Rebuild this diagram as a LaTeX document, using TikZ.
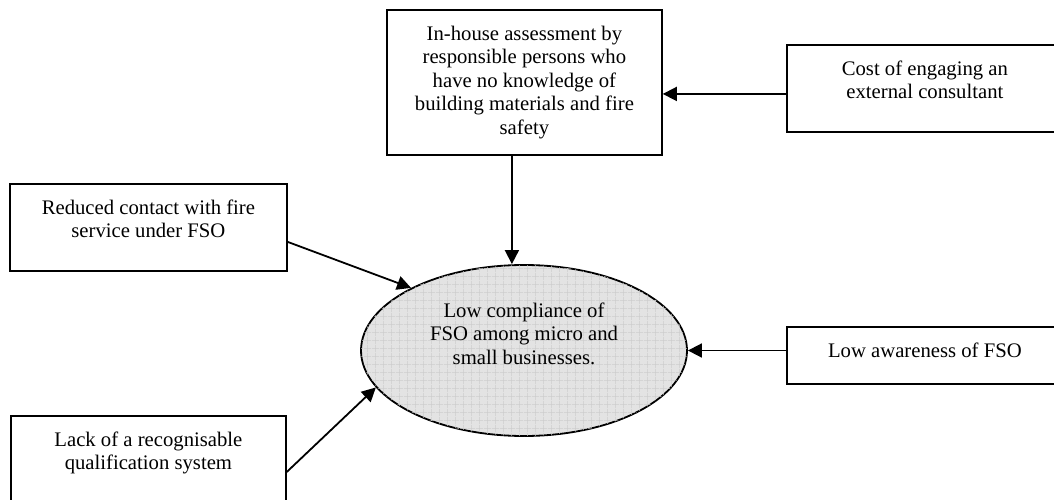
\documentclass[tikz,border=0pt]{standalone}
\usepackage{fontspec}
\setmainfont{Liberation Serif}
\usetikzlibrary{shapes.geometric, arrows.meta, patterns.meta}

\begin{document}
\begin{tikzpicture}[x=0.5pt, y=0.5pt, font=\fontsize{10.35}{11.75}\selectfont,
		cause/.style={draw, line width=0.9pt, align=center, anchor=north west, inner xsep=2pt, inner ysep=8pt},
		effect/.style={ellipse, draw, line width=0.9pt, minimum width=163pt, minimum height=85.5pt, inner sep=0pt, align=center,
			fill=gray!22, postaction={pattern={Hatch[distance=4pt, line width=0.3pt]}, pattern color=gray!40}},
		arr/.style={line width=0.9pt, -{Triangle[length=7pt, width=7pt]}}]
		\useasboundingbox (0, 0) rectangle (1054, 499);

		% causes
		\node[cause, minimum width=137.5pt, text depth=2.25pt] (inhouse) at (386, 490)
			{In-house assessment by\\ responsible persons who\\ have no knowledge of\\ building materials and fire\\ safety};
		\node[cause, minimum width=138pt, text depth=8.5pt] (cost) at (786, 455)
			{Cost of engaging an\\ external consultant};
		\node[cause, minimum width=138.5pt, text depth=8.5pt] (reduced) at (9, 316)
			{Reduced contact with fire\\ service under FSO};
		\node[cause, minimum width=138pt, text depth=5.25pt] (aware) at (786, 173)
			{Low awareness of FSO};
		\node[cause, minimum width=137.5pt, text depth=9pt] (lack) at (10, 84)
			{Lack of a recognisable\\ qualification system};

		% effect
		\node[effect, text depth=17.25pt] (low) at (524, 148.5)
			{Low compliance of\\ FSO among micro and\\ small businesses.};

		\draw[arr] ([yshift=-2.75pt]cost.west) -- ([yshift=-2.75pt]cost.west -| inhouse.east);
		\draw[arr] ([xshift=-6.25pt]inhouse.south) -- ([xshift=-6.25pt]inhouse.south |- low.north);
		\draw[arr] ([yshift=-7.25pt]reduced.east) -- (low.151.5);
		\draw[arr] (aware.west |- low.east) -- (low.east);
		\draw[arr] ([yshift=-6pt]lack.east) -- (low.194);
	\end{tikzpicture}
\end{document}
